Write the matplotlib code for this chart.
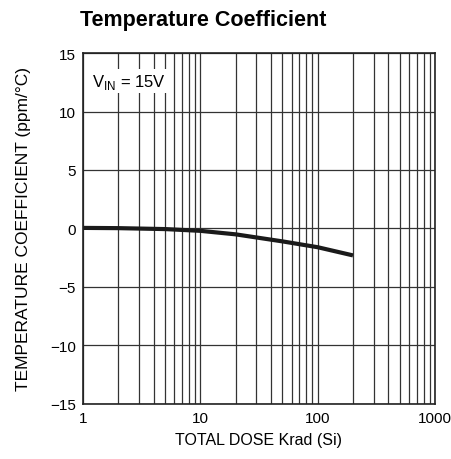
import numpy as np
import matplotlib
matplotlib.use('Agg')
import matplotlib.pyplot as plt
from matplotlib.ticker import FixedLocator, NullFormatter

plt.rcParams['font.family'] = ['Liberation Sans', 'DejaVu Sans']

# data
dose = [1, 2, 5, 10, 20, 50, 100, 200]
tempco = [0.05, 0.03, -0.05, -0.2, -0.5, -1.1, -1.6, -2.3]
xticks = [1, 10, 100, 1000]
xtick_labels = ['1', '10', '100', '1000']
yticks = [-15, -10, -5, 0, 5, 10, 15]
ytick_labels = ['\u221215', '\u221210', '\u22125', '0', '5', '10', '15']

fig = plt.figure(figsize=(4.51, 4.60), dpi=100)
ax = fig.add_axes([0.184, 0.1196, 0.7805, 0.763])

ax.set_xscale('log')
ax.set_xlim(1, 1000)
ax.set_ylim(-15, 15)

# grid lines
minor = [m * d for d in [1, 10, 100] for m in range(2, 10)]
ax.xaxis.set_major_locator(FixedLocator(xticks))
ax.xaxis.set_minor_locator(FixedLocator(minor))
ax.xaxis.set_minor_formatter(NullFormatter())
ax.set_xticklabels(xtick_labels)
ax.set_yticks(yticks)
ax.set_yticklabels(ytick_labels)
ax.grid(True, which='both', axis='x', color='#333333', linewidth=0.9)
ax.grid(True, which='major', axis='y', color='#333333', linewidth=0.9)
ax.tick_params(which='both', length=0, labelsize=11, pad=5)
for s in ax.spines.values():
    s.set_linewidth(1.2)
    s.set_color('#222222')

ax.plot(dose, tempco, color='#1a1a1a', linewidth=3, solid_capstyle='butt')

ax.text(1.2, 12.6, 'V$_{\\mathregular{IN}}$ = 15V', fontsize=12, va='center', ha='left',
        bbox=dict(facecolor='white', edgecolor='none', pad=2))

ax.set_xlabel('TOTAL DOSE Krad (Si)', fontsize=11.5, labelpad=5)
ax.set_ylabel('TEMPERATURE COEFFICIENT (ppm/\u00b0C)', fontsize=12.5, labelpad=14)

fig.text(0.177, 0.955, 'Temperature Coefficient', fontsize=15.5, fontweight='bold',
         ha='left', va='center')

fig.savefig('out.png', dpi=100)
